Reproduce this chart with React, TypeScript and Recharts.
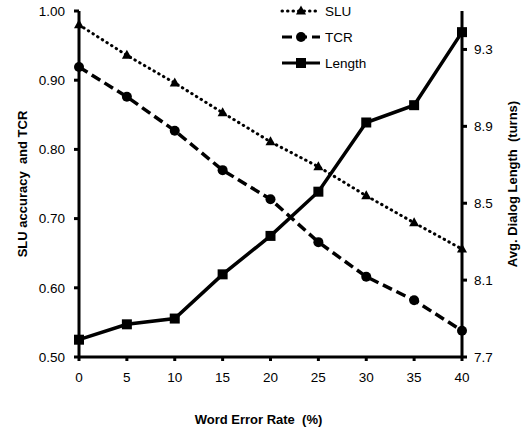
import React from 'react';
import { LineChart, Line, XAxis, YAxis, Legend, Label } from 'recharts';

const wer = [0, 5, 10, 15, 20, 25, 30, 35, 40];
const sluAcc = [0.98, 0.936, 0.896, 0.853, 0.811, 0.775, 0.733, 0.694, 0.656];
const tcrVals = [0.919, 0.876, 0.827, 0.77, 0.728, 0.666, 0.616, 0.582, 0.538];
const lengthVals = [7.79, 7.87, 7.9, 8.13, 8.33, 8.56, 8.92, 9.01, 9.39];

const xTicks = [0, 5, 10, 15, 20, 25, 30, 35, 40];
const leftTicks = [0.5, 0.6, 0.7, 0.8, 0.9, 1.0];
const rightTicks = [7.7, 8.1, 8.5, 8.9, 9.3];

const data = wer.map((w, i) => ({ wer: w, slu: sluAcc[i], tcr: tcrVals[i], len: lengthVals[i] }));

const FONT = '"Liberation Sans", Arial, sans-serif';

const triShape = (cx: number, cy: number) =>
  `M${cx},${cy - 5.5} L${cx + 5},${cy + 3.5} L${cx - 5},${cy + 3.5} Z`;

const TriDot = (props: any) => {
  const { cx, cy, index } = props;
  if (cx == null || cy == null) return <g key={`t${index}`} />;
  return <path key={`t${index}`} d={triShape(cx, cy)} fill="#000" />;
};
const CircDot = (props: any) => {
  const { cx, cy, index } = props;
  if (cx == null || cy == null) return <g key={`c${index}`} />;
  return <circle key={`c${index}`} cx={cx} cy={cy} r={5} fill="#000" />;
};
const SqDot = (props: any) => {
  const { cx, cy, index } = props;
  if (cx == null || cy == null) return <g key={`s${index}`} />;
  return <rect key={`s${index}`} x={cx - 5} y={cy - 5} width={10} height={10} fill="#000" />;
};

const legendItems = [
  { name: 'SLU', dash: '0.5 5', kind: 'tri' },
  { name: 'TCR', dash: '10 5', kind: 'circ' },
  { name: 'Length', dash: undefined, kind: 'sq' },
];

const LegendContent = () => (
  <svg width={110} height={75} style={{ display: 'block' }}>
    {legendItems.map((it, i) => {
      const y = 11 + i * 26;
      return (
        <g key={it.name}>
          <line
            x1={4}
            x2={42}
            y1={y}
            y2={y}
            stroke="#000"
            strokeWidth={3}
            strokeDasharray={it.dash}
            strokeLinecap={it.kind === 'tri' ? 'round' : 'butt'}
          />
          {it.kind === 'tri' && <path d={triShape(23, y)} fill="#000" />}
          {it.kind === 'circ' && <circle cx={23} cy={y} r={5} fill="#000" />}
          {it.kind === 'sq' && <rect x={18} y={y - 5} width={10} height={10} fill="#000" />}
          <text x={47} y={y + 5} fontSize={13.5} fontFamily={FONT} fill="#000">
            {it.name}
          </text>
        </g>
      );
    })}
  </svg>
);

const titleStyle: React.CSSProperties = { whiteSpace: 'pre' };

const LeftTitle = (props: any) => {
  const vb = props.viewBox;
  const cx = vb.x + 22;
  const cy = vb.y + vb.height / 2;
  return (
    <text
      x={cx}
      y={cy}
      transform={`rotate(-90 ${cx} ${cy})`}
      textAnchor="middle"
      dominantBaseline="central"
      fontSize={13}
      fontWeight="bold"
      fontFamily={FONT}
      fill="#000"
      style={titleStyle}
    >
      {'SLU accuracy  and TCR'}
    </text>
  );
};

const RightTitle = (props: any) => {
  const vb = props.viewBox;
  const cx = vb.x + 50;
  const cy = vb.y + vb.height / 2;
  return (
    <text
      x={cx}
      y={cy}
      transform={`rotate(-90 ${cx} ${cy})`}
      textAnchor="middle"
      dominantBaseline="central"
      fontSize={13}
      fontWeight="bold"
      fontFamily={FONT}
      fill="#000"
      style={titleStyle}
    >
      {'Avg. Dialog Length  (turns)'}
    </text>
  );
};

const BottomTitle = (props: any) => {
  const vb = props.viewBox;
  const cx = vb.x + vb.width / 2 - 12;
  return (
    <text
      x={cx}
      y={424}
      textAnchor="middle"
      fontSize={13}
      fontWeight="bold"
      fontFamily={FONT}
      fill="#000"
      style={titleStyle}
    >
      {'Word Error Rate  (%)'}
    </text>
  );
};

const tickStyle = { fontSize: 13.5, fontFamily: FONT, fill: '#000' };
const axisLine = { stroke: '#000', strokeWidth: 3 };
const tickLine = { stroke: '#000', strokeWidth: 3 };

export default function App() {
  return (
    <div style={{ position: 'absolute', left: 0, top: 0, width: 525, height: 432, background: '#fff' }}>
      <LineChart
        width={525}
        height={432}
        data={data}
        margin={{ top: 11, right: 0, bottom: 0, left: 0 }}
      >
        <XAxis
          dataKey="wer"
          type="number"
          domain={[0, 40]}
          ticks={xTicks}
          height={75}
          tick={tickStyle}
          tickSize={4}
          tickMargin={11}
          axisLine={axisLine}
          tickLine={tickLine}
          interval={0}
        >
          <Label content={BottomTitle} />
        </XAxis>
        <YAxis
          yAxisId="left"
          orientation="left"
          width={79}
          domain={[0.5, 1.0]}
          ticks={leftTicks}
          tickFormatter={(v: number) => v.toFixed(2)}
          tick={tickStyle}
          tickSize={5}
          tickMargin={9}
          axisLine={axisLine}
          tickLine={tickLine}
          interval={0}
        >
          <Label content={LeftTitle} />
        </YAxis>
        <YAxis
          yAxisId="right"
          orientation="right"
          width={63}
          domain={[7.7, 9.5]}
          ticks={rightTicks}
          tickFormatter={(v: number) => v.toFixed(1)}
          tick={tickStyle}
          tickSize={5}
          tickMargin={7}
          axisLine={axisLine}
          tickLine={tickLine}
          interval={0}
        >
          <Label content={RightTitle} />
        </YAxis>
        <Legend
          layout="vertical"
          align="center"
          verticalAlign="middle"
          content={LegendContent}
          wrapperStyle={{ top: 0, left: 278, width: 110, height: 75 }}
        />
        <Line
          yAxisId="left"
          dataKey="slu"
          name="SLU"
          stroke="#000"
          strokeWidth={3}
          strokeDasharray="0.5 5"
          strokeLinecap="round"
          dot={TriDot}
          activeDot={false}
          isAnimationActive={false}
        />
        <Line
          yAxisId="left"
          dataKey="tcr"
          name="TCR"
          stroke="#000"
          strokeWidth={3.5}
          strokeDasharray="10 5"
          dot={CircDot}
          activeDot={false}
          isAnimationActive={false}
        />
        <Line
          yAxisId="right"
          dataKey="len"
          name="Length"
          stroke="#000"
          strokeWidth={3.5}
          dot={SqDot}
          activeDot={false}
          isAnimationActive={false}
        />
      </LineChart>
    </div>
  );
}
